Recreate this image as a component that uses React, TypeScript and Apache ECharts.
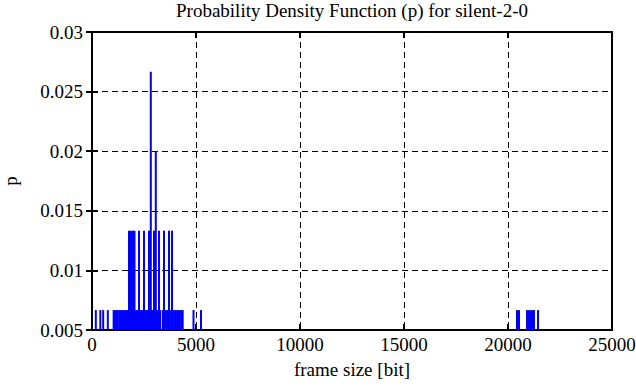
import React, { useEffect, useRef } from "react";
import * as echarts from "echarts";

const titleText = "Probability Density Function (p) for silent-2-0";
const xName = "frame size [bit]";
const yName = "p";

// frame sizes [bit], grouped by their probability
const pOnce = 0.00667;
const pTwice = 0.01333;
const pThrice = 0.02;
const pFour = 0.02667;

const framesOnce = [
  183, 399, 538, 760, 1040, 1105, 1170, 1240, 1310, 1380, 1445, 1515, 1585,
  1650, 1720, 1790, 1855, 1925, 1995, 2065, 2130, 2200, 2270, 2335, 2405, 2475,
  2545, 2610, 2680, 2750, 2815, 2885, 2955, 3020, 3090, 3160, 3225, 3280, 3410,
  3470, 3540, 3610, 3675, 3745, 3815, 3880, 3950, 4020, 4090, 4160, 4225, 4295,
  4360, 4880, 5241, 20434, 20530, 20915, 21011, 21107, 21203, 21251, 21444,
];
const framesTwice = [
  1779, 1875, 1971, 2043, 2260, 2500, 2741, 2981, 3221, 3462, 3702, 3846,
];
const framesThrice = [3067];
const framesFour = [2827];

const xTicks = [0, 5000, 10000, 15000, 20000, 25000];
const yTicks = [0.005, 0.01, 0.015, 0.02, 0.025, 0.03];

const FONT = "'Liberation Serif', 'DejaVu Serif', serif";

export default function App() {
  const ref = useRef<HTMLDivElement>(null);
  useEffect(() => {
    if (!ref.current) return;
    const chart = echarts.init(ref.current, undefined, { renderer: "svg" });
    const data: [number, number][] = [
      ...framesOnce.map((f) => [f, pOnce] as [number, number]),
      ...framesTwice.map((f) => [f, pTwice] as [number, number]),
      ...framesThrice.map((f) => [f, pThrice] as [number, number]),
      ...framesFour.map((f) => [f, pFour] as [number, number]),
    ];
    const dashed = { color: "#000", width: 1, type: [6, 4] as any };
    const labelStyle = { color: "#000", fontFamily: FONT, fontSize: 19 };
    const axisLine = { show: true, lineStyle: { color: "#000", width: 2 } };
    const axisTick = { show: true, inside: true, length: 6, lineStyle: { color: "#000", width: 2 } };
    chart.setOption({
      animation: false,
      backgroundColor: "#fff",
      textStyle: { fontFamily: FONT },
      title: {
        text: titleText,
        left: 352,
        top: 1,
        padding: 0,
        textAlign: "center",
        textVerticalAlign: "top",
        textStyle: { ...labelStyle, fontWeight: "normal" },
      },
      grid: {
        left: 92,
        right: 24,
        top: 32,
        bottom: 57,
        show: true,
        borderColor: "#000",
        borderWidth: 2,
        containLabel: false,
        outerBoundsMode: "none",
      },
      xAxis: [
        {
          type: "value",
          min: xTicks[0],
          max: xTicks[xTicks.length - 1],
          interval: 5000,
          name: xName,
          nameLocation: "middle",
          nameGap: 30,
          nameTextStyle: labelStyle,
          axisLine,
          axisTick,
          axisLabel: { ...labelStyle, margin: 5, formatter: (v: number) => String(v) },
          splitLine: { show: true, lineStyle: dashed },
        },
        {
          type: "value",
          position: "top",
          min: xTicks[0],
          max: xTicks[xTicks.length - 1],
          interval: 5000,
          axisLine,
          axisTick,
          axisLabel: { show: false },
          splitLine: { show: false },
        },
      ],
      yAxis: [
        {
          type: "value",
          min: yTicks[0],
          max: yTicks[yTicks.length - 1],
          interval: 0.005,
          name: yName,
          nameLocation: "middle",
          nameGap: 72,
          nameRotate: 90,
          nameTextStyle: labelStyle,
          axisLine,
          axisTick,
          axisLabel: {
            ...labelStyle,
            margin: 9,
            formatter: (v: number) => String(parseFloat(v.toFixed(3))),
          },
          splitLine: { show: true, lineStyle: dashed },
        },
        {
          type: "value",
          position: "right",
          min: yTicks[0],
          max: yTicks[yTicks.length - 1],
          interval: 0.005,
          axisLine,
          axisTick,
          axisLabel: { show: false },
          splitLine: { show: false },
        },
      ],
      series: [
        {
          type: "bar",
          xAxisIndex: 0,
          yAxisIndex: 0,
          data,
          barWidth: 2,
          clip: true,
          itemStyle: { color: "#0000ff" },
          z: 3,
        },
      ],
    });
    return () => chart.dispose();
  }, []);
  return (
    <div
      ref={ref}
      style={{ position: "absolute", left: 0, top: 0, width: 636, height: 387 }}
    />
  );
}
